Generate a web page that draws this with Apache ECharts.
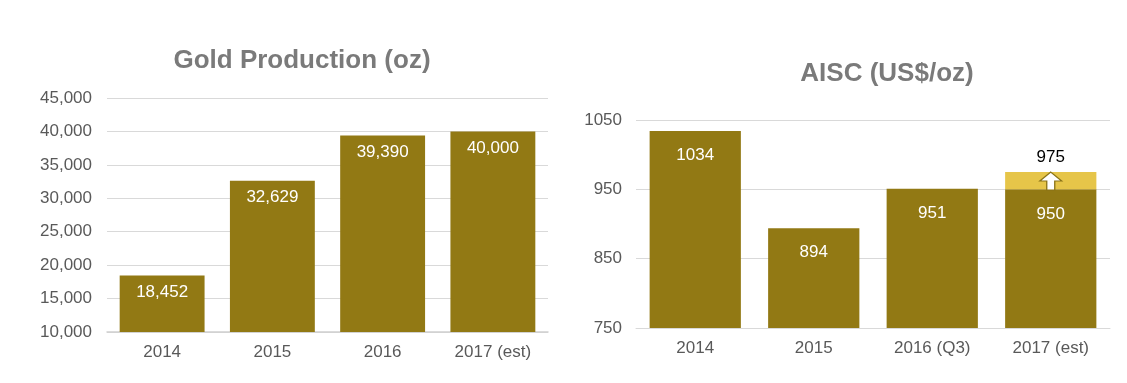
<!DOCTYPE html>
<html>
<head>
<meta charset="utf-8">
<script src="https://cdn.jsdelivr.net/npm/echarts@6/dist/echarts.min.js"></script>
<style>html,body{margin:0;padding:0;background:#fff}#c{width:1127px;height:383px}</style>
</head>
<body>
<div id="c"></div>
<script>
const prodCategories = ['2014', '2015', '2016', '2017 (est)'];
const prodValues = [18452, 32629, 39390, 40000];
const prodTicks = {min: 10000, max: 45000, interval: 5000};

const aiscCategories = ['2014', '2015', '2016 (Q3)', '2017 (est)'];
const aiscBase = [1034, 894, 951, 950];
const aiscIncrease = [null, null, null, 25];
const aiscTotal = [null, null, null, 975];
const aiscTicks = {min: 750, max: 1050, interval: 100};

const dark = '#927914';
const light = '#E6C549';
const font = 'Liberation Sans, Arial, sans-serif';
const fmt = v => v.toLocaleString('en-US');

const chart = echarts.init(document.getElementById('c'), null, {renderer: 'canvas'});
chart.setOption({
  animation: false,
  textStyle: {fontFamily: font},
  title: [
    {text: 'Gold Production (oz)', left: 297, top: 43, textAlign: 'center',
     textStyle: {fontSize: 26, fontWeight: 'bold', color: '#7a7a7a', fontFamily: font}},
    {text: 'AISC (US$/oz)', left: 882, top: 56, textAlign: 'center',
     textStyle: {fontSize: 26, fontWeight: 'bold', color: '#7a7a7a', fontFamily: font}}
  ],
  grid: [
    {left: 107, right: 1127 - 548, top: 98, height: 234},
    {left: 636, right: 1127 - 1110, top: 120, height: 208}
  ],
  xAxis: [
    {type: 'category', gridIndex: 0, data: prodCategories,
     axisLine: {lineStyle: {color: '#d0d0d0', width: 1.5}}, axisTick: {show: false},
     axisLabel: {color: '#595959', fontSize: 17, margin: 12, fontFamily: font}},
    {type: 'category', gridIndex: 1, data: aiscCategories,
     axisLine: {show: true, lineStyle: {color: '#d9d9d9'}}, axisTick: {show: false},
     axisLabel: {color: '#595959', fontSize: 17, margin: 12, fontFamily: font}}
  ],
  yAxis: [
    {type: 'value', gridIndex: 0, min: prodTicks.min, max: prodTicks.max, interval: prodTicks.interval,
     axisLine: {show: false}, axisTick: {show: false},
     splitLine: {lineStyle: {color: '#d9d9d9'}},
     axisLabel: {color: '#595959', fontSize: 17, margin: 15, formatter: fmt, fontFamily: font}},
    {type: 'value', gridIndex: 1, min: aiscTicks.min, max: aiscTicks.max, interval: aiscTicks.interval,
     axisLine: {show: false}, axisTick: {show: false},
     splitLine: {lineStyle: {color: '#d9d9d9'}},
     axisLabel: {color: '#595959', fontSize: 17, margin: 14, formatter: v => String(v), fontFamily: font}}
  ],
  series: [
    {type: 'bar', xAxisIndex: 0, yAxisIndex: 0, data: prodValues, barWidth: '77%',
     itemStyle: {color: dark},
     label: {show: true, position: 'insideTop', distance: 8, color: '#fff', fontSize: 17,
             formatter: p => fmt(p.value), fontFamily: font}},
    {type: 'bar', xAxisIndex: 1, yAxisIndex: 1, stack: 'a', data: aiscBase, barWidth: '77%',
     itemStyle: {color: dark},
     label: {show: true, position: 'insideTop', distance: 16, color: '#fff', fontSize: 17, fontFamily: font}},
    {type: 'bar', xAxisIndex: 1, yAxisIndex: 1, stack: 'a', data: aiscIncrease, barWidth: '77%',
     itemStyle: {color: light},
     label: {show: true, position: 'top', distance: 6, color: '#000', fontSize: 17,
             formatter: p => aiscTotal[p.dataIndex], fontFamily: font}},
    {type: 'scatter', xAxisIndex: 1, yAxisIndex: 1, data: [[3, 962]],
     symbol: 'path://M11,0 L22,9 L15,9 L15,18 L7,18 L7,9 L0,9 Z', symbolSize: [22, 18],
     itemStyle: {color: '#fff', borderColor: '#8a7317', borderWidth: 1.2, opacity: 1}, z: 5}
  ]
});
</script>
</body>
</html>
